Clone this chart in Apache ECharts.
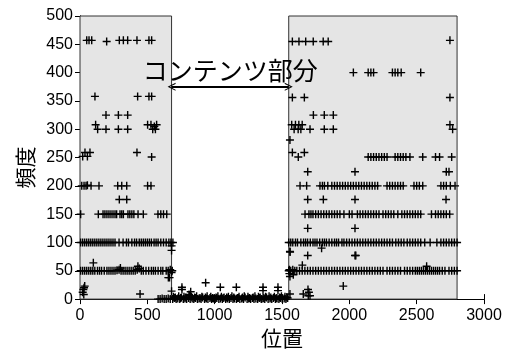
<!DOCTYPE html>
<html>
<head>
<meta charset="utf-8">
<script src="https://cdn.jsdelivr.net/npm/echarts@6/dist/echarts.min.js"></script>
<style>
  html, body { margin: 0; padding: 0; background: #fff; }
  #chart { width: 508px; height: 354px; }
</style>
</head>
<body>
<div id="chart"></div>
<script>
  // 横軸・縦軸
  const xTicks = [0, 500, 1000, 1500, 2000, 2500, 3000]
  const yTicks = [0, 50, 100, 150, 200, 250, 300, 350, 400, 450, 500]

  // 灰色の区間（コンテンツ以外）と矢印の位置
  const sideRanges = [[0, 680], [1550, 2800]]
  const contentRange = [680, 1550]
  const arrowFreq = 375
  const contentLabel = 'コンテンツ部分'

  // 左側の区間 [位置, 頻度]
  const leftPoints = [
    [50, 457], [67, 457], [87, 457], [198, 455], [292, 457], [322, 457], [354, 457], [423, 457], [512, 457], [532, 457],
    [111, 358], [428, 358], [512, 358], [532, 358],
    [193, 325], [285, 325], [354, 325],
    [116, 308], [131, 300], [193, 300], [285, 300], [354, 300], [502, 308], [527, 308], [552, 305], [540, 300], [569, 308], [560, 300],
    [20, 252], [37, 259], [55, 252], [74, 259], [423, 259], [532, 251],
    [13, 200], [30, 200], [45, 200], [55, 201], [82, 200], [141, 200], [280, 200], [310, 200], [347, 200], [502, 200], [527, 200],
    [292, 176], [347, 176],
    [5, 150], [136, 150], [171, 150], [185, 150], [200, 150], [215, 150], [230, 150], [245, 150], [260, 150], [272, 150],
    [297, 150], [310, 150], [322, 150], [356, 150], [370, 150], [385, 150], [400, 150], [431, 150], [470, 150],
    [579, 150], [600, 150], [620, 150], [644, 150],
    [5, 100], [20, 100], [35, 100], [50, 100], [65, 100], [80, 100], [95, 100], [110, 100], [125, 100], [140, 100],
    [155, 100], [170, 100], [185, 100], [200, 100], [215, 100], [230, 100], [245, 100], [260, 100], [290, 100], [320, 100],
    [345, 100], [360, 100], [385, 100], [405, 100], [420, 100], [440, 100], [455, 100], [470, 100], [485, 100], [500, 100],
    [515, 100], [530, 100], [550, 100], [565, 100], [580, 100], [600, 100], [620, 100], [640, 100], [660, 100], [675, 100], [690, 100],
    [99, 64], [300, 55], [430, 58],
    [5, 50], [20, 50], [35, 50], [50, 50], [65, 50], [80, 50], [95, 50], [110, 50], [130, 50], [145, 50], [160, 50], [180, 50],
    [200, 50], [215, 50], [230, 50], [245, 50], [260, 50], [275, 51], [290, 52], [305, 50], [320, 50], [335, 50], [350, 50],
    [365, 50], [380, 50], [395, 50], [410, 50], [425, 52], [440, 54], [455, 50], [470, 50], [490, 50], [510, 50], [530, 50],
    [545, 50], [560, 50], [580, 50], [600, 50], [615, 50], [640, 50], [655, 50], [670, 52], [685, 50],
    [680, 86], [680, 94], [680, 47], [656, 38], [665, 38], [680, 14],
    [20, 12], [25, 17], [30, 20], [35, 23], [28, 8], [446, 9],
    [580, 0], [595, 0], [610, 1], [625, 0], [640, 0], [655, 1], [670, 0]
  ]

  // コンテンツ部分
  const contentPoints = [
    [688, 0], [700, 2], [714, 0], [726, 1], [741, 0], [753, 3], [767, 0], [779, 1], [792, 0], [806, 2], [818, 0], [833, 1],
    [845, 0], [858, 2], [872, 0], [884, 1], [899, 0], [911, 3], [925, 0], [938, 1], [950, 0], [965, 2], [977, 0], [990, 1],
    [1004, 0], [1016, 2], [1031, 0], [1043, 1], [1057, 0], [1070, 3], [1082, 0], [1096, 1], [1109, 0], [1121, 2], [1136, 0],
    [1148, 1], [1162, 0], [1175, 2], [1187, 0], [1201, 1], [1214, 0], [1226, 3], [1241, 0], [1253, 1], [1267, 0], [1280, 2],
    [1292, 0], [1306, 1], [1319, 0], [1331, 2], [1346, 0], [1358, 1], [1372, 0], [1385, 3], [1397, 0], [1411, 1], [1424, 0],
    [1436, 2], [1451, 0], [1463, 1], [1477, 0], [1490, 2], [1502, 0], [1516, 1], [1529, 0], [1542, 2],
    [694, 4], [708, 3], [733, 5], [747, 2], [772, 4], [786, 3], [812, 6], [827, 4], [851, 3], [866, 5], [891, 2], [905, 4],
    [931, 3], [944, 5], [971, 4], [984, 2], [1010, 3], [1024, 5], [1050, 4], [1063, 2], [1089, 3], [1102, 4], [1128, 5],
    [1142, 3], [1168, 2], [1181, 4], [1207, 3], [1220, 5], [1247, 4], [1260, 2], [1286, 3], [1299, 5], [1325, 4], [1338, 3],
    [1365, 2], [1378, 4], [1404, 5], [1417, 3], [1443, 4], [1457, 2], [1483, 3], [1496, 5], [1522, 4], [1536, 3],
    [757, 21], [757, 17], [822, 13], [810, 8], [933, 29], [1042, 21], [1161, 21], [1359, 21], [1359, 15], [1470, 21], [1470, 15],
    [1560, 83], [1555, 52], [1555, 45], [1559, 9]
  ]

  // 右側の区間
  const rightPoints = [
    [1577, 455], [1626, 455], [1676, 455], [1732, 455], [1806, 455], [1843, 455], [2747, 457],
    [2030, 400], [2140, 400], [2160, 400], [2180, 400], [2320, 400], [2340, 400], [2360, 400], [2385, 400], [2530, 400],
    [1577, 356], [1666, 356], [2747, 356],
    [1733, 325], [1814, 325], [1881, 325],
    [1572, 308], [1600, 308], [1625, 308], [1650, 308], [1590, 300], [1620, 300], [1640, 300], [1708, 300], [1814, 300], [1881, 300],
    [2747, 308], [2767, 300], [1559, 281],
    [1577, 259], [1666, 259], [1621, 251],
    [2140, 251], [2160, 251], [2180, 251], [2200, 251], [2220, 251], [2240, 251], [2260, 251], [2280, 251], [2340, 251],
    [2360, 251], [2380, 251], [2400, 251], [2420, 251], [2450, 251], [2545, 251], [2640, 251], [2670, 251], [2760, 251],
    [1691, 225], [2042, 225], [2720, 225], [2740, 225],
    [1634, 200], [1683, 200], [1782, 200], [1800, 200], [1815, 200], [1840, 200], [1870, 200], [1890, 200], [1910, 200],
    [1930, 200], [1950, 200], [1970, 200], [1990, 200], [2010, 200], [2030, 200], [2050, 200], [2070, 200], [2090, 200],
    [2110, 200], [2130, 200], [2150, 200], [2170, 200], [2190, 200], [2210, 200], [2280, 200], [2300, 200], [2320, 200],
    [2340, 200], [2360, 200], [2380, 200], [2400, 200], [2480, 200], [2500, 200], [2520, 200], [2545, 200], [2680, 200],
    [2700, 200], [2720, 200], [2750, 200], [2785, 200],
    [1691, 176], [1807, 176], [2042, 176], [2718, 176],
    [1671, 150], [1700, 150], [1715, 150], [1730, 150], [1750, 150], [1770, 150], [1790, 150], [1810, 150], [1830, 150],
    [1850, 150], [1870, 150], [1890, 150], [1910, 150], [1930, 150], [1960, 150], [2000, 150], [2020, 150], [2060, 150],
    [2080, 150], [2100, 150], [2120, 150], [2140, 150], [2160, 150], [2180, 150], [2200, 150], [2220, 150], [2250, 150],
    [2270, 150], [2290, 150], [2310, 150], [2330, 150], [2360, 150], [2390, 150], [2410, 150], [2430, 150], [2450, 150],
    [2470, 150], [2490, 150], [2510, 150], [2530, 150], [2610, 150], [2640, 150], [2660, 150], [2680, 150], [2700, 150],
    [2720, 150], [2745, 150],
    [1691, 125], [2042, 125],
    [1550, 100], [1565, 100], [1580, 100], [1600, 100], [1615, 100], [1640, 100], [1660, 100], [1675, 100], [1690, 100],
    [1710, 100], [1730, 100], [1745, 100], [1760, 100], [1780, 100], [1800, 100], [1815, 100], [1830, 100], [1850, 100],
    [1870, 100], [1890, 100], [1905, 100], [1920, 100], [1945, 100], [1960, 100], [1980, 100], [2000, 100], [2020, 100],
    [2040, 100], [2060, 100], [2080, 100], [2100, 100], [2120, 100], [2140, 100], [2160, 100], [2180, 100], [2200, 100],
    [2220, 100], [2240, 100], [2260, 100], [2280, 100], [2300, 100], [2320, 100], [2345, 100], [2365, 100], [2385, 100],
    [2405, 100], [2430, 100], [2450, 100], [2470, 100], [2490, 100], [2510, 100], [2530, 100], [2560, 100], [2600, 100],
    [2650, 100], [2680, 100], [2700, 100], [2720, 100], [2740, 100], [2760, 100], [2780, 100], [2800, 100],
    [1559, 84], [1794, 90], [1691, 77], [2042, 77], [2048, 77],
    [1550, 50], [1565, 50], [1580, 52], [1595, 50], [1610, 50], [1630, 50], [1650, 50], [1670, 50], [1690, 50], [1710, 50],
    [1730, 50], [1750, 50], [1770, 50], [1790, 50], [1810, 50], [1830, 50], [1850, 50], [1870, 50], [1890, 50], [1910, 50],
    [1930, 50], [1950, 50], [1970, 50], [1990, 50], [2010, 50], [2030, 50], [2050, 50], [2070, 50], [2090, 50], [2110, 50],
    [2130, 50], [2150, 50], [2170, 50], [2190, 50], [2210, 50], [2230, 50], [2250, 50], [2280, 50], [2300, 50], [2320, 50],
    [2340, 50], [2360, 50], [2380, 50], [2410, 50], [2430, 50], [2450, 50], [2470, 50], [2490, 50], [2505, 50], [2520, 50],
    [2535, 50], [2550, 50], [2565, 50], [2580, 50], [2595, 50], [2610, 50], [2625, 50], [2640, 50], [2655, 50], [2670, 50],
    [2690, 50], [2710, 50], [2740, 50], [2760, 50], [2780, 50], [2800, 50],
    [2574, 58], [1651, 60], [1584, 43], [1559, 40], [1955, 23],
    [1693, 17], [1700, 12], [1708, 6], [1695, 6], [1658, 9]
  ]

  // 太めの「＋」記号
  const plusSymbol = 'path://M3.3,0H4.7V3.3H8V4.7H4.7V8H3.3V4.7H0V3.3H3.3Z'
  const labelFont = { fontFamily: 'Liberation Sans', fontSize: 16, color: '#000' }
  const nameFont = { fontFamily: 'Noto Sans CJK JP', fontSize: 21, color: '#000' }

  const chart = echarts.init(document.getElementById('chart'))

  const baseX = {
    type: 'value', min: xTicks[0], max: xTicks[xTicks.length - 1], interval: 500,
    axisLine: { lineStyle: { color: '#000', width: 1 } },
    axisTick: { inside: true, length: 5, lineStyle: { color: '#000' } },
    splitLine: { show: false }
  }
  const baseY = {
    type: 'value', min: yTicks[0], max: yTicks[yTicks.length - 1], interval: 50,
    axisLine: { show: true, lineStyle: { color: '#000', width: 1 } },
    axisTick: { show: true, inside: true, length: 5, lineStyle: { color: '#000' } },
    splitLine: { show: false }
  }

  const option = {
    animation: false,
    grid: { left: 80, right: 24, top: 16, bottom: 49 },
    xAxis: [
      Object.assign({}, baseX, {
        position: 'bottom',
        name: '位置', nameLocation: 'middle', nameGap: 18, nameTextStyle: nameFont,
        axisLabel: Object.assign({ margin: 8, formatter: v => String(v) }, labelFont)
      }),
      Object.assign({}, baseX, { position: 'top', axisLabel: { show: false } })
    ],
    yAxis: [
      Object.assign({}, baseY, {
        position: 'left',
        name: '頻度', nameLocation: 'middle', nameGap: 43,
        nameTextStyle: Object.assign({ padding: [0, 20, 0, 0] }, nameFont),
        axisLabel: Object.assign({ margin: 7 }, labelFont)
      }),
      Object.assign({}, baseY, { position: 'right', axisLabel: { show: false } })
    ],
    series: [
      {
        // 灰色の区間
        type: 'scatter', data: [], z: 1,
        markArea: {
          silent: true,
          itemStyle: { color: '#e5e5e5', borderColor: '#333', borderWidth: 1 },
          data: sideRanges.map(r => [{ xAxis: r[0], yAxis: yTicks[0] }, { xAxis: r[1], yAxis: yTicks[yTicks.length - 1] }])
        }
      },
      {
        type: 'scatter',
        z: 3,
        symbol: plusSymbol,
        symbolSize: 8,
        itemStyle: { color: '#000', opacity: 1 },
        data: leftPoints.concat(contentPoints, rightPoints),
        markLine: {
          silent: true,
          symbol: ['path://M0,10L5,0L10,10L8.6,10L5,2.8L1.4,10Z', 'path://M0,10L5,0L10,10L8.6,10L5,2.8L1.4,10Z'],
          symbolSize: [8, 8],
          lineStyle: { color: '#000', width: 2, type: 'solid' },
          label: {
            show: true, position: 'insideMiddleTop', distance: 4,
            formatter: contentLabel,
            fontFamily: 'Noto Sans CJK JP', fontSize: 25, color: '#000'
          },
          data: [[{ coord: [contentRange[0], arrowFreq] }, { coord: [contentRange[1], arrowFreq] }]]
        }
      }
    ]
  }

  chart.setOption(option)
</script>
</body>
</html>
